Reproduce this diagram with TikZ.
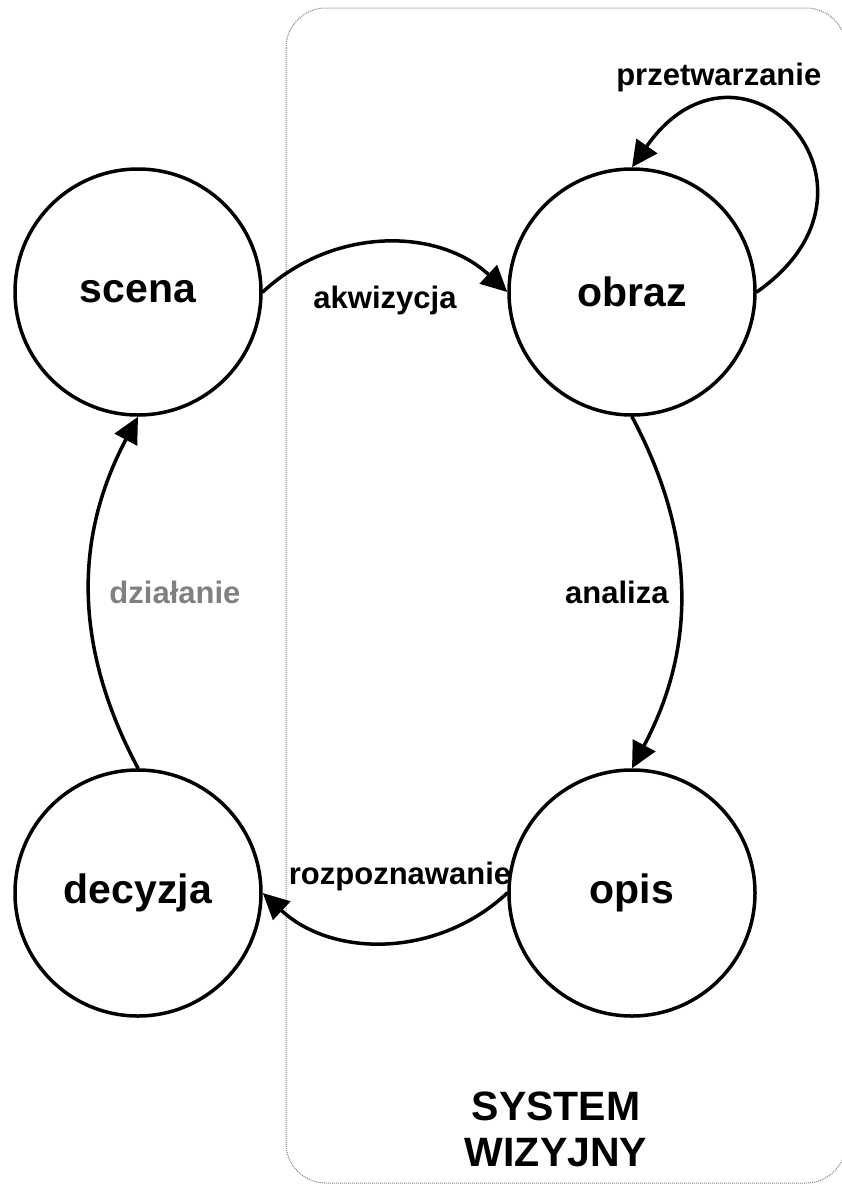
\documentclass[tikz,border=0pt]{standalone}
\usepackage{fontspec}
\setmainfont{Liberation Sans}
\usetikzlibrary{arrows.meta,positioning}
\newcommand{\duzy}{\fontsize{41}{46}\selectfont\bfseries}
\newcommand{\maly}{\fontsize{31}{36}\selectfont\bfseries}
\begin{document}
\begin{tikzpicture}[x=1pt,y=1pt,line join=round,line cap=round,>={Triangle[length=26pt,width=25pt]},
  stan/.style={circle,draw,line width=3.5pt,minimum size=246pt,inner sep=0pt,font=\duzy},
  etykieta/.style={font=\maly,inner sep=10pt},
  luk/.style={->,line width=3.5pt}]
\useasboundingbox (0,-1184) rectangle (842,0);
\draw[gray,line width=1pt,line cap=butt,dash pattern=on 1pt off 1pt,rounded corners=40pt] (286,-8) rectangle (846,-1183);
\foreach \n/\x/\y in {scena/138/292,obraz/632/292,decyzja/138/893,opis/632/893}{\node[stan] (\n) at (\x,-\y) {\n};}
\node[font=\duzy,align=center] (system) at (556,-1129) {SYSTEM\\WIZYJNY};
\draw[luk] (scena.east) to[bend left=43] node[etykieta,midway,below=31pt] {akwizycja} (obraz.west);
\draw[luk] (obraz.east) to[out=35,in=55,out distance=185pt,in distance=190pt] node[etykieta,pos=0.75,above=2pt] {przetwarzanie} (obraz.north);
\draw[luk] (obraz.south) to[bend left=28] node[etykieta,midway,left] {analiza} (opis.north);
\draw[luk] (opis.west) to[bend left=43] node[etykieta,midway,above=39pt,xshift=15pt] {rozpoznawanie} (decyzja.east);
\draw[luk] (decyzja.north) to[bend left=28] node[etykieta,midway,right=8pt,text=gray] {działanie} (scena.south);
\end{tikzpicture}
\end{document}
